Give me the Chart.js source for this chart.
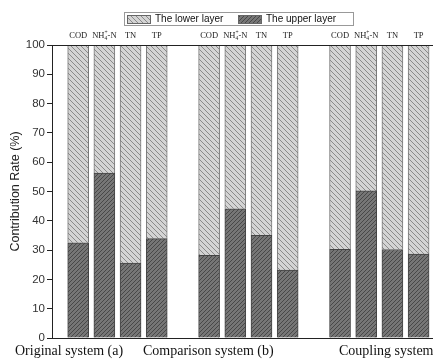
<!DOCTYPE html>
<html>
<head>
<meta charset="utf-8">
<script src="https://cdn.jsdelivr.net/npm/chart.js@4.4.1/dist/chart.umd.min.js"></script>
<style>
    body { margin: 0; background: #fff; overflow: hidden; }
    canvas { display: block; }
</style>
</head>
<body>
<canvas id="chart" width="433" height="360"></canvas>
<script>
// ================= DATA =================

const groups = ["Original system (a)", "Comparison system (b)", "Coupling system (c)"];
const items = ["COD", "NH4+-N", "TN", "TP"];

// upper layer sits at the bottom of each bar
const upperOriginal = [32.5, 56.3, 25.6, 33.9];
const upperComparison = [28.2, 44.1, 35.0, 23.2];
const upperCoupling = [30.3, 50.2, 30.2, 28.6];

const lowerOriginal = [67.5, 43.7, 74.4, 66.1];
const lowerComparison = [71.8, 55.9, 65.0, 76.8];
const lowerCoupling = [69.7, 49.8, 69.8, 71.4];

const yTicks = [0, 10, 20, 30, 40, 50, 60, 70, 80, 90, 100];

// ================= HELPERS =================

// bar slot on the x axis: 4 bars per group + 1 empty slot
function slot(g, j) {
    return g * 5 + j + 1;
}

function toPoints(lists) {
    let pts = [];
    lists.forEach((vals, g) => {
        vals.forEach((v, j) => pts.push({ x: slot(g, j), y: v }));
    });
    return pts;
}

function makeHatch(bg, fg, size, dir) {
    let c = document.createElement("canvas");
    c.width = size;
    c.height = size;
    let g = c.getContext("2d");
    g.fillStyle = bg;
    g.fillRect(0, 0, size, size);
    g.strokeStyle = fg;
    g.lineWidth = 1;
    g.beginPath();
    for (let k = -1; k <= 1; k++) {
        if (dir === "/") {
            g.moveTo(k * size, size);
            g.lineTo(k * size + size, 0);
        } else {
            g.moveTo(k * size, 0);
            g.lineTo(k * size + size, size);
        }
    }
    g.stroke();
    return g.createPattern(c, "repeat");
}

const lowerFill = makeHatch("#d4d4d4", "#8a8a8a", 5, "\\");
const upperFill = makeHatch("#767676", "#484848", 4, "/");

// ================= EXTRA DRAWING =================

const extras = {
    id: "extras",
    afterDraw(chart) {
        let ctx = chart.ctx;
        let area = chart.chartArea;
        let xs = chart.scales.x;

        ctx.save();

        // top frame line
        ctx.strokeStyle = "#222";
        ctx.lineWidth = 1;
        ctx.beginPath();
        ctx.moveTo(area.left, area.top + 0.5);
        ctx.lineTo(area.right, area.top + 0.5);
        ctx.stroke();

        // item names above bars
        ctx.fillStyle = "#222";
        ctx.textBaseline = "middle";
        let f = "8.5px 'Liberation Serif'";
        let fs = "5.5px 'Liberation Serif'";
        groups.forEach((gName, g) => {
            items.forEach((it, j) => {
                let cx = xs.getPixelForValue(slot(g, j));
                let cy = 36;
                if (it === "NH4+-N") {
                    ctx.font = f;
                    let wNH = ctx.measureText("NH").width;
                    let wN = ctx.measureText("-N").width;
                    ctx.font = fs;
                    let wSub = ctx.measureText("+").width;
                    let x0 = cx - (wNH + wSub + wN) / 2;
                    ctx.textAlign = "left";
                    ctx.font = f;
                    ctx.fillText("NH", x0, cy);
                    ctx.font = fs;
                    ctx.fillText("4", x0 + wNH, cy + 3);
                    ctx.fillText("+", x0 + wNH, cy - 3);
                    ctx.font = f;
                    ctx.fillText("-N", x0 + wNH + wSub, cy);
                } else {
                    ctx.font = f;
                    ctx.textAlign = "center";
                    ctx.fillText(it, cx, cy);
                }
            });
        });

        // group names under the plot
        let groupLeft = [15, 143, 339];
        ctx.font = "14px 'Liberation Serif'";
        ctx.textAlign = "left";
        ctx.fillStyle = "#111";
        groups.forEach((gName, g) => {
            ctx.fillText(gName, groupLeft[g], 351);
        });

        // legend
        ctx.strokeStyle = "#999";
        ctx.strokeRect(124.5, 12.5, 229, 13);
        ctx.font = "10px 'Liberation Sans'";
        let legendItems = [
            { label: "The lower layer", fill: lowerFill, x: 127 },
            { label: "The upper layer", fill: upperFill, x: 238 }
        ];
        legendItems.forEach(li => {
            ctx.fillStyle = li.fill;
            ctx.fillRect(li.x, 15, 24, 9);
            ctx.strokeStyle = "#666";
            ctx.strokeRect(li.x + 0.5, 15.5, 23, 8);
            ctx.fillStyle = "#111";
            ctx.fillText(li.label, li.x + 28, 19.5);
        });

        ctx.restore();
    }
};

// ================= CHART =================

new Chart(document.getElementById("chart"), {
    type: "bar",
    data: {
        datasets: [
            {
                label: "The upper layer",
                data: toPoints([upperOriginal, upperComparison, upperCoupling]),
                backgroundColor: upperFill,
                borderColor: "#444",
                borderWidth: 1,
                barThickness: 21
            },
            {
                label: "The lower layer",
                data: toPoints([lowerOriginal, lowerComparison, lowerCoupling]),
                backgroundColor: lowerFill,
                borderColor: "#777",
                borderWidth: 1,
                barThickness: 21
            }
        ]
    },
    options: {
        responsive: false,
        animation: false,
        layout: { padding: { top: 45, bottom: 22, left: 0, right: 0 } },
        plugins: {
            legend: { display: false },
            tooltip: { enabled: false }
        },
        scales: {
            x: {
                type: "linear",
                stacked: true,
                offset: false,
                min: 0,
                max: 14.55,
                ticks: { display: false },
                grid: { display: false, drawTicks: false, offset: false },
                border: { display: true, color: "#222", width: 1 }
            },
            y: {
                stacked: true,
                min: 0,
                max: 100,
                afterBuildTicks: s => { s.ticks = yTicks.map(v => ({ value: v })); },
                afterFit: s => { s.width = 52; },
                ticks: {
                    color: "#333",
                    padding: 2,
                    font: { family: "'Liberation Sans'", size: 11.5 }
                },
                grid: { drawOnChartArea: false, tickLength: 5, color: "#222" },
                border: { display: true, color: "#222", width: 1 },
                title: {
                    display: true,
                    text: "Contribution Rate (%)",
                    color: "#222",
                    font: { family: "'Liberation Sans'", size: 12.5 },
                    padding: { top: 8, bottom: 0 }
                }
            }
        }
    },
    plugins: [extras]
});
</script>
</body>
</html>
